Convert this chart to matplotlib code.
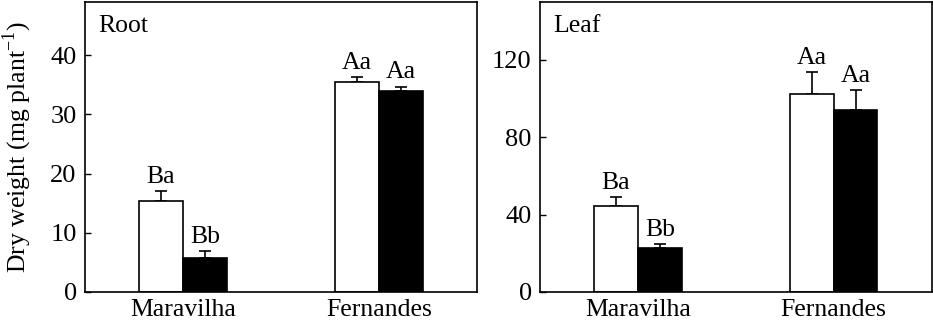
import matplotlib
matplotlib.use("Agg")
import matplotlib.pyplot as plt
import numpy as np

plt.rcParams['font.family'] = ['Liberation Serif', 'DejaVu Serif']
plt.rcParams['mathtext.fontset'] = 'custom'
plt.rcParams['mathtext.rm'] = 'Liberation Serif'

cultivars = ["Maravilha", "Fernandes"]

root_white = [15.3, 35.5]
root_white_err = [1.7, 0.8]
root_black = [5.75, 34.0]
root_black_err = [1.15, 0.7]
root_white_lbl = ["Ba", "Aa"]
root_black_lbl = ["Bb", "Aa"]

leaf_white = [44.7, 102.5]
leaf_white_err = [4.2, 11.1]
leaf_black = [22.8, 94.1]
leaf_black_err = [1.9, 10.3]
leaf_white_lbl = ["Ba", "Aa"]
leaf_black_lbl = ["Bb", "Aa"]

fig = plt.figure(figsize=(9.33, 3.22), dpi=100)
ax1 = fig.add_axes([85/933, 30/322, 391.7/933, 290/322])
ax2 = fig.add_axes([540/933, 30/322, 391.5/933, 290/322])

w = 0.224
x = np.arange(len(cultivars))
FS = 18.5

def panel(ax, wv, we, bv, be, wl, bl, ylim, yticks, title):
    ax.bar(x - w/2, wv, w, color='white', edgecolor='black', linewidth=1.2, zorder=2)
    ax.bar(x + w/2, bv, w, color='black', edgecolor='black', linewidth=1.2, zorder=2)
    ax.errorbar(x - w/2, wv, yerr=[np.zeros(len(we)), we], fmt='none', ecolor='black',
                elinewidth=1.2, capsize=4, capthick=1.2, zorder=1)
    ax.errorbar(x + w/2, bv, yerr=[np.zeros(len(be)), be], fmt='none', ecolor='black',
                elinewidth=1.2, capsize=4, capthick=1.2, zorder=1)
    off = ylim * 0.012
    for i in range(len(x)):
        ax.text(x[i] - w/2, wv[i] + we[i] + off, wl[i], ha='center', va='bottom', fontsize=FS)
        ax.text(x[i] + w/2, bv[i] + be[i] + off, bl[i], ha='center', va='bottom', fontsize=FS)
    ax.set_xlim(-0.5, 1.5)
    ax.set_ylim(0, ylim)
    ax.set_yticks(yticks)
    ax.set_xticks(x)
    ax.set_xticklabels(cultivars, fontsize=FS)
    ax.tick_params(axis='x', length=0, pad=5)
    ax.tick_params(axis='y', direction='in', length=4, width=1, labelsize=19, pad=6)
    for s in ax.spines.values():
        s.set_linewidth(1.2)
    ax.text(0.035, 0.955, title, transform=ax.transAxes, ha='left', va='top', fontsize=FS)

panel(ax1, root_white, root_white_err, root_black, root_black_err,
      root_white_lbl, root_black_lbl, 49, [0, 10, 20, 30, 40], "Root")
panel(ax2, leaf_white, leaf_white_err, leaf_black, leaf_black_err,
      leaf_white_lbl, leaf_black_lbl, 150, [0, 40, 80, 120], "Leaf")

ax1.set_ylabel(r"Dry weight (mg plant$^{\mathregular{-1}}$)", fontsize=18.5, labelpad=12)

fig.savefig("out.png", dpi=100)
